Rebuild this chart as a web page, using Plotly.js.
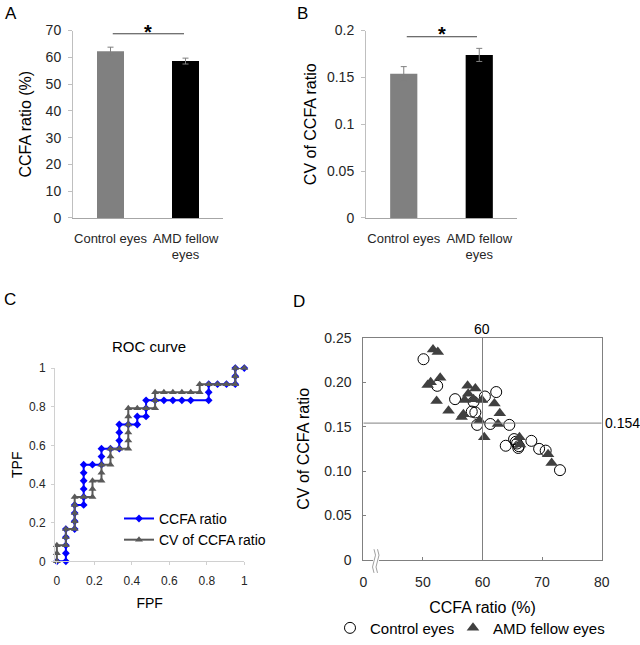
<!DOCTYPE html>
<html>
<head>
<meta charset="utf-8">
<script src="https://cdn.plot.ly/plotly-3.0.1.min.js"></script>
<style>html,body{margin:0;padding:0;background:#fff;}#chart{width:640px;height:645px;}</style>
</head>
<body>
<div id="chart"></div>
<script>
// ---------- Data ----------
const barCategories = ["Control eyes", "AMD fellow<br>eyes"];
const ccfaMeans = [62.3, 58.6];
const ccfaErrors = [1.5, 1.1];
const cvMeans = [0.154, 0.174];
const cvErrors = [0.0075, 0.007];

const rocCcfaFpf = [0,0.048,0.048,0.048,0.048,0.048,0.095,0.095,0.095,0.095,0.143,0.143,0.143,0.143,0.143,0.143,0.190,0.238,0.238,0.238,0.286,0.333,0.333,0.333,0.333,0.381,0.429,0.429,0.476,0.476,0.476,0.524,0.571,0.619,0.667,0.714,0.810,0.810,0.810,0.857,0.905,0.952,0.952,0.952,1];
const rocCcfaTpf = [0,0,0.042,0.083,0.125,0.167,0.167,0.208,0.250,0.292,0.292,0.333,0.375,0.417,0.458,0.500,0.500,0.500,0.542,0.583,0.583,0.583,0.625,0.667,0.708,0.708,0.708,0.750,0.750,0.792,0.833,0.833,0.833,0.833,0.833,0.833,0.833,0.875,0.917,0.917,0.917,0.917,0.958,1,1];

const rocCvFpf = [0,0,0,0.048,0.048,0.048,0.095,0.095,0.095,0.095,0.095,0.143,0.190,0.190,0.190,0.238,0.238,0.238,0.286,0.286,0.286,0.333,0.381,0.381,0.381,0.381,0.381,0.381,0.429,0.476,0.524,0.524,0.524,0.571,0.619,0.667,0.714,0.762,0.762,0.810,0.857,0.905,0.952,0.952,0.952,1];
const rocCvTpf = [0,0.042,0.083,0.083,0.125,0.167,0.167,0.208,0.250,0.292,0.333,0.333,0.333,0.375,0.417,0.417,0.458,0.500,0.500,0.542,0.583,0.583,0.583,0.625,0.667,0.708,0.750,0.792,0.792,0.792,0.792,0.833,0.875,0.875,0.875,0.875,0.875,0.875,0.917,0.917,0.917,0.917,0.917,0.958,1,1];

const controlCcfa = [50.1,52.4,55.4,58.2,58.8,58.5,60.4,62.3,59.1,61.3,64.5,63.9,65.3,65.6,66.1,65.8,66.0,68.2,69.5,70.6,73.0];
const controlCv   = [0.226,0.196,0.181,0.167,0.166,0.178,0.184,0.189,0.152,0.153,0.152,0.1285,0.136,0.133,0.128,0.131,0.126,0.134,0.125,0.123,0.101];
const amdCcfa = [51.7,52.5,50.8,51.3,52.9,52.3,54.3,56.5,56.8,57.5,58.8,57.6,57.0,58.5,59.9,59.5,62.0,62.9,62.6,60.3,66.2,66.3,71.0,71.6];
const amdCv   = [0.237,0.234,0.197,0.200,0.205,0.179,0.168,0.161,0.164,0.196,0.193,0.187,0.180,0.181,0.180,0.157,0.176,0.165,0.153,0.138,0.138,0.130,0.119,0.109];

const cutCcfa = 60;
const cutCv = 0.154;
const dXTickVals = [40,50,60,70,80];
const dXTickText = ["0","50","60","70","80"];
const dYTickVals = [0,0.05,0.10,0.15,0.20,0.25];
const dYTickText = ["0","0.05","0.10","0.15","0.20","0.25"];

// ---------- Plot ----------
const FONT = "Arial, 'Liberation Sans', sans-serif";
const W = 640, H = 645;
const px = v => v / W;
const py = v => (H - v) / H;

const traces = [
  {type:'bar', x:barCategories, y:ccfaMeans, xaxis:'x', yaxis:'y', showlegend:false,
   marker:{color:['#808080','#000000']}, width:0.36,
   error_y:{type:'data', array:ccfaErrors, color:'#7f7f7f', thickness:1, width:3}},
  {type:'bar', x:barCategories, y:cvMeans, xaxis:'x2', yaxis:'y2', showlegend:false,
   marker:{color:['#808080','#000000']}, width:0.36,
   error_y:{type:'data', array:cvErrors, color:'#7f7f7f', thickness:1, width:3}},
  {type:'scatter', mode:'lines+markers', name:'CCFA ratio', x:rocCcfaFpf, y:rocCcfaTpf,
   xaxis:'x3', yaxis:'y3', legend:'legend', cliponaxis:false,
   line:{color:'#0000ff', width:2}, marker:{symbol:'diamond', size:6, color:'#0000ff'}},
  {type:'scatter', mode:'lines+markers', name:'CV of CCFA ratio', x:rocCvFpf, y:rocCvTpf,
   xaxis:'x3', yaxis:'y3', legend:'legend', cliponaxis:false,
   line:{color:'#595959', width:2}, marker:{symbol:'triangle-up', size:7, color:'#595959'}},
  {type:'scatter', mode:'markers', name:'Control eyes', x:controlCcfa, y:controlCv,
   xaxis:'x4', yaxis:'y4', legend:'legend2', legendwidth:78,
   marker:{symbol:'circle-open', size:11, color:'#000000', line:{width:1, color:'#000000'}}},
  {type:'scatter', mode:'markers', name:'AMD fellow eyes', x:amdCcfa, y:amdCv,
   xaxis:'x4', yaxis:'y4', legend:'legend2',
   marker:{symbol:'triangle-up', size:11, color:'#404040'}}
];

const tickFont = s => ({family:FONT, size:s, color:'#262626'});
const titleFont = s => ({family:FONT, size:s, color:'#000000'});

const layout = {
  width:W, height:H, margin:{l:0,r:0,t:0,b:0},
  paper_bgcolor:'#ffffff', plot_bgcolor:'rgba(0,0,0,0)',
  font:{family:FONT, color:'#000'},
  bargap:0.64,
  xaxis:{domain:[px(73),px(223)], anchor:'y', type:'category', range:[-0.5,1.5],
    showline:true, linecolor:'#a6a6a6', ticks:'', ticklabelstandoff:8, tickfont:tickFont(13), showgrid:false, zeroline:false},
  yaxis:{domain:[py(221),py(31)], anchor:'x', range:[0,70], dtick:10, showline:true, linecolor:'#bfbfbf',
    ticks:'outside', ticklen:4, tickcolor:'#bfbfbf', ticklabelstandoff:4, showgrid:false, zeroline:false, tickfont:tickFont(14),
    title:{text:'CCFA ratio (%)', font:titleFont(16), standoff:10}},
  xaxis2:{domain:[px(366),px(517)], anchor:'y2', type:'category', range:[-0.5,1.5],
    showline:true, linecolor:'#a6a6a6', ticks:'', ticklabelstandoff:8, tickfont:tickFont(13), showgrid:false, zeroline:false},
  yaxis2:{domain:[py(221),py(31)], anchor:'x2', range:[0,0.2], dtick:0.05, showline:true, linecolor:'#bfbfbf',
    ticks:'outside', ticklen:4, tickcolor:'#bfbfbf', ticklabelstandoff:4, showgrid:false, zeroline:false, tickfont:tickFont(14),
    title:{text:'CV of CCFA ratio', font:titleFont(16), standoff:6}},
  xaxis3:{domain:[px(55),px(244.3)], anchor:'y3', range:[-0.01,1], dtick:0.2, showline:true, linecolor:'#d0d0d0',
    ticks:'outside', ticklen:3, tickcolor:'#d0d0d0', ticklabelstandoff:5, showgrid:false, zeroline:false, tickfont:tickFont(12),
    title:{text:'FPF', font:titleFont(14), standoff:11}},
  yaxis3:{domain:[py(569.3),py(373.3)], anchor:'x3', range:[0,1], dtick:0.2, showline:true, linecolor:'#d0d0d0',
    ticks:'outside', ticklen:3, tickcolor:'#d0d0d0', ticklabelstandoff:3, showgrid:false, zeroline:false, tickfont:tickFont(12),
    title:{text:'TPF', font:titleFont(14), standoff:3}},
  xaxis4:{domain:[px(363.3),px(601.7)], anchor:'y4', range:[40,80], tickvals:dXTickVals, ticktext:dXTickText,
    showline:true, mirror:true, linecolor:'#808080', ticks:'inside', ticklen:3, tickcolor:'#808080', ticklabelstandoff:9,
    showgrid:false, zeroline:false, tickfont:tickFont(14), title:{text:'CCFA ratio (%)', font:titleFont(16), standoff:13}},
  yaxis4:{domain:[py(567.7),py(342.7)], anchor:'x4', range:[0,0.25], tickvals:dYTickVals, ticktext:dYTickText,
    showline:true, mirror:true, linecolor:'#808080', ticks:'inside', ticklen:3, tickcolor:'#808080',
    showgrid:false, zeroline:false, tickfont:tickFont(14), ticklabelstandoff:8,
    title:{text:'CV of CCFA ratio', font:titleFont(16), standoff:10}},
  legend:{x:px(119), y:py(510), xanchor:'left', yanchor:'top', bgcolor:'rgba(0,0,0,0)',
    font:{family:FONT, size:14, color:'#000'}, tracegroupgap:0},
  legend2:{orientation:'h', x:px(330), y:py(637), xanchor:'left', yanchor:'middle', bgcolor:'rgba(0,0,0,0)',
    font:{family:FONT, size:15, color:'#000'}},
  shapes:[
    {type:'line', xref:'x', yref:'y', x0:0.03, x1:0.98, y0:68.8, y1:68.8, line:{color:'#404040', width:1}},
    {type:'line', xref:'x2', yref:'y2', x0:0.04, x1:0.97, y0:0.1934, y1:0.1934, line:{color:'#404040', width:1}},
    {type:'line', xref:'x4', yref:'y4', x0:cutCcfa, x1:cutCcfa, y0:0, y1:0.25, line:{color:'#808080', width:1}},
    {type:'line', xref:'x4', yref:'y4', x0:40, x1:80, y0:cutCv, y1:cutCv, line:{color:'#808080', width:1}},
    {type:'rect', xref:'paper', yref:'paper', x0:px(373), x1:px(379), y0:py(571), y1:py(564), fillcolor:'#ffffff', line:{width:0}},
    {type:'path', xref:'paper', yref:'paper',
     path:`M ${px(374)} ${py(557)} Q ${px(377)} ${py(563)} ${px(374)} ${py(569)} Q ${px(371)} ${py(575)} ${px(374)} ${py(581)}`,
     line:{color:'#a0a0a0', width:1}},
    {type:'path', xref:'paper', yref:'paper',
     path:`M ${px(377.5)} ${py(557)} Q ${px(380.5)} ${py(563)} ${px(377.5)} ${py(569)} Q ${px(374.5)} ${py(575)} ${px(377.5)} ${py(581)}`,
     line:{color:'#a0a0a0', width:1}}
  ],
  annotations:[
    {text:'A', xref:'paper', yref:'paper', x:px(3), y:py(2), xanchor:'left', yanchor:'top', showarrow:false, font:{family:FONT, size:17, color:'#000'}},
    {text:'B', xref:'paper', yref:'paper', x:px(295), y:py(2), xanchor:'left', yanchor:'top', showarrow:false, font:{family:FONT, size:17, color:'#000'}},
    {text:'C', xref:'paper', yref:'paper', x:px(2), y:py(292), xanchor:'left', yanchor:'top', showarrow:false, font:{family:FONT, size:17, color:'#000'}},
    {text:'D', xref:'paper', yref:'paper', x:px(291), y:py(294), xanchor:'left', yanchor:'top', showarrow:false, font:{family:FONT, size:17, color:'#000'}},
    {text:'<b>*</b>', xref:'x', yref:'paper', x:0.5, y:py(19), yanchor:'top', showarrow:false, font:{family:FONT, size:20, color:'#000'}},
    {text:'<b>*</b>', xref:'x2', yref:'paper', x:0.5, y:py(21), yanchor:'top', showarrow:false, font:{family:FONT, size:20, color:'#000'}},
    {text:'ROC curve', xref:'paper', yref:'paper', x:px(149), y:py(351), xanchor:'center', yanchor:'middle', showarrow:false, font:{family:FONT, size:15, color:'#000'}},
    {text:String(cutCcfa), xref:'x4', yref:'paper', x:cutCcfa, y:py(334), xanchor:'center', yanchor:'middle', showarrow:false, font:{family:FONT, size:14, color:'#000'}},
    {text:String(cutCv), xref:'paper', yref:'y4', x:px(603), y:cutCv, xanchor:'left', yanchor:'middle', showarrow:false, font:{family:FONT, size:14, color:'#000'}}
  ]
};

Plotly.newPlot('chart', traces, layout, {displayModeBar:false, staticPlot:true});
</script>
</body>
</html>
